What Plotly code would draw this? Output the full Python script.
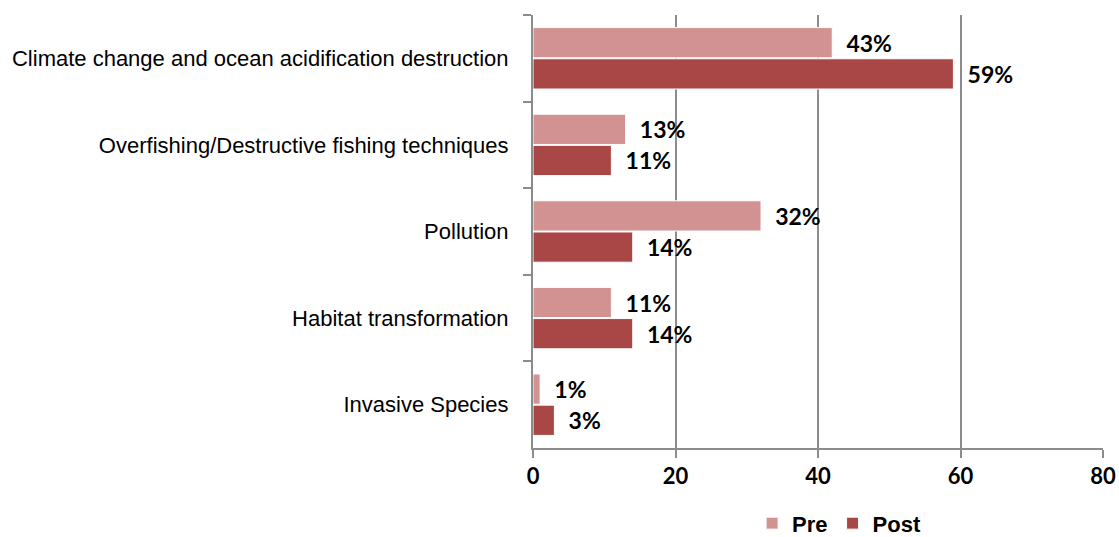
import plotly.graph_objects as go

categories = [
    "Climate change and ocean acidification destruction",
    "Overfishing/Destructive fishing techniques",
    "Pollution",
    "Habitat transformation",
    "Invasive Species",
]
pre_values = [42, 13, 32, 11, 1]
post_values = [59, 11, 14, 14, 3]
pre_labels = ["43%", "13%", "32%", "11%", "1%"]
post_labels = ["59%", "11%", "14%", "14%", "3%"]
x_ticks = [0, 20, 40, 60, 80]

PRE_COLOR = "#D19291"
POST_COLOR = "#A94646"
AXIS_COLOR = "#8C8C8C"
LABEL_FONT = "Lato, 'Open Sans', sans-serif"

fig = go.Figure()
for name, vals, labels, color in [
    ("Pre", pre_values, pre_labels, PRE_COLOR),
    ("Post", post_values, post_labels, POST_COLOR),
]:
    fig.add_trace(go.Bar(
        name=name,
        y=categories,
        x=vals,
        orientation="h",
        marker=dict(color=color, line=dict(color="white", width=1)),
        text=["  " + t for t in labels],
        textposition="outside",
        textfont=dict(family=LABEL_FONT, size=23, color="black", weight="bold"),
        constraintext="none",
        cliponaxis=False,
    ))

fig.update_layout(
    width=1119,
    height=537,
    margin=dict(l=533, r=16, t=15, b=89, autoexpand=False),
    barmode="group",
    bargap=0.28,
    bargroupgap=0.03,
    plot_bgcolor="white",
    paper_bgcolor="white",
    legend=dict(
        orientation="h",
        x=0.537, xref="paper", xanchor="center",
        y=-0.174, yanchor="middle",
        font=dict(family="'Liberation Sans Narrow', 'Liberation Sans', Arial, sans-serif",
                  size=22, color="black", weight="bold"),
        itemwidth=30,
        traceorder="normal",
    ),
    xaxis=dict(
        range=[0, 80],
        tickvals=x_ticks,
        ticktext=[str(v) for v in x_ticks],
        showgrid=True,
        gridcolor=AXIS_COLOR,
        gridwidth=1.5,
        zeroline=False,
        showline=True,
        linecolor=AXIS_COLOR,
        linewidth=1.5,
        ticks="outside",
        ticklen=8,
        tickcolor=AXIS_COLOR,
        tickwidth=1.5,
        automargin=False,
        tickfont=dict(family=LABEL_FONT, size=22, color="black", weight="bold"),
    ),
    yaxis=dict(
        autorange="reversed",
        showline=True,
        linecolor=AXIS_COLOR,
        linewidth=1.5,
        ticks="outside",
        tickson="boundaries",
        ticklen=8,
        tickcolor=AXIS_COLOR,
        tickwidth=1.5,
        showgrid=False,
        automargin=False,
        ticksuffix="   ",
        tickfont=dict(family="'Liberation Sans', Arial, sans-serif", size=22, color="black"),
    ),
)

fig.write_html(
    "out.html",
    config={"displayModeBar": False},
    post_script="document.body.style.margin='0';document.body.style.overflow='hidden';",
)
